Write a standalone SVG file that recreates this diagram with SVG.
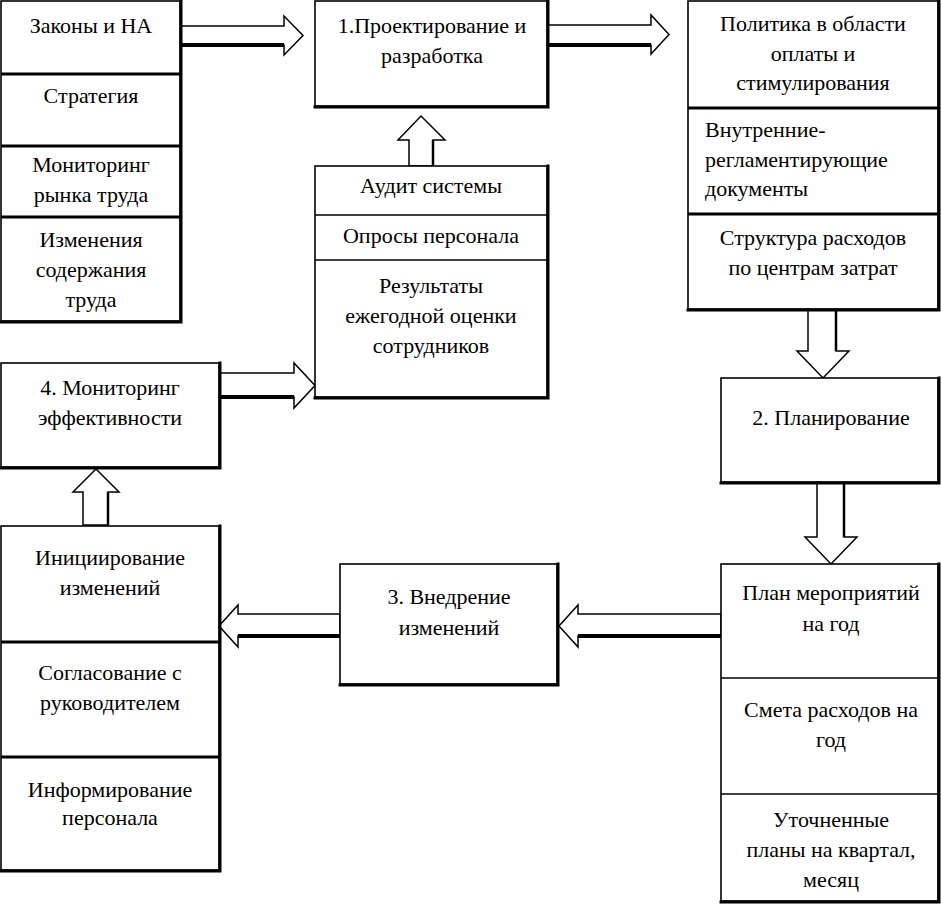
<svg xmlns="http://www.w3.org/2000/svg" width="941" height="914" viewBox="0 0 941 914" font-family="'Liberation Serif', 'Times New Roman', 'DejaVu Serif', serif">
<style>
.bx{fill:#fff;stroke:#000;stroke-width:1.6}
.sh{fill:none;stroke:#000;stroke-width:3;stroke-linecap:square}
.sep{stroke:#000;stroke-width:3}
.sept{stroke:#000;stroke-width:1.3}
.ar{fill:#fff;stroke:#000;stroke-width:1.5;stroke-linejoin:miter}
.as{fill:none;stroke:#000;stroke-width:4}
.av{fill:none;stroke:#000;stroke-width:2.5}
.t{font-family:'Liberation Serif','Times New Roman','DejaVu Serif',serif;font-size:22px;fill:#000;text-anchor:middle}
.l{text-anchor:start}
</style>
<rect width="941" height="914" fill="#fff"/>

<g id="connectors">
  <polygon class="ar" points="181,26 284,26 284,16 303,35.5 284,55 284,45 181,45"/>
  <line class="as" x1="181" y1="45" x2="284" y2="45"/>
  <polygon class="ar" points="548,25 651,25 651,15 669,34.5 651,54 651,45 548,45"/>
  <line class="as" x1="548" y1="45" x2="651" y2="45"/>
  <polygon class="ar" points="808,310 808,351 797,351 823,378 849,351 836,351 836,310"/>
  <line class="av" x1="836" y1="310" x2="836" y2="351"/>
  <polygon class="ar" points="817,483 817,537 805,537 831,564 857,537 844,537 844,483"/>
  <line class="av" x1="844" y1="483" x2="844" y2="537"/>
  <polygon class="ar" points="721,614 578,614 578,605 559,626 578,647 578,636 721,636"/>
  <line class="as" x1="578" y1="636" x2="721" y2="636"/>
  <polygon class="ar" points="340,614 238,614 238,605 219,626 238,647 238,636 340,636"/>
  <line class="as" x1="238" y1="636" x2="340" y2="636"/>
  <polygon class="ar" points="83,525 83,492 73,492 96,469 119,492 108,492 108,525"/>
  <line class="av" x1="108" y1="492" x2="108" y2="525"/>
  <polygon class="ar" points="220,373 294,373 294,363 315,385.5 294,408 294,397 220,397"/>
  <line class="as" x1="220" y1="397" x2="294" y2="397"/>
  <polygon class="ar" points="409,166 409,140 398,140 421,116 445,140 433,140 433,166"/>
  <line class="av" x1="433" y1="140" x2="433" y2="166"/>
</g>

<g id="left-top-stack">
  <rect class="bx" x="1" y="1" width="179" height="320"/>
  <polyline class="sh" points="181,1 181,322 1,322"/>
  <line class="sep" x1="1" y1="74" x2="181" y2="74"/>
  <line class="sep" x1="1" y1="146" x2="181" y2="146"/>
  <line class="sep" x1="1" y1="217" x2="181" y2="217"/>
  <text class="t" x="91" y="33">Законы и НА</text>
  <text class="t" x="91" y="103">Стратегия</text>
  <text class="t" x="91" y="172">Мониторинг</text>
  <text class="t" x="91" y="202">рынка труда</text>
  <text class="t" x="91" y="247">Изменения</text>
  <text class="t" x="91" y="277">содержания</text>
  <text class="t" x="91" y="307">труда</text>
</g>

<g id="design">
  <rect class="bx" x="315" y="1" width="232" height="105"/>
  <polyline class="sh" points="548,1 548,107 315,107"/>
  <text class="t" x="432" y="33">1.Проектирование и</text>
  <text class="t" x="432" y="63">разработка</text>
</g>

<g id="audit-stack">
  <rect class="bx" x="315" y="166" width="232" height="231"/>
  <polyline class="sh" points="548,166 548,398 315,398"/>
  <line class="sept" x1="315" y1="215" x2="548" y2="215"/>
  <line class="sept" x1="315" y1="260" x2="548" y2="260"/>
  <text class="t" x="431" y="193">Аудит системы</text>
  <text class="t" x="431" y="243">Опросы персонала</text>
  <text class="t" x="431" y="293">Результаты</text>
  <text class="t" x="431" y="323">ежегодной оценки</text>
  <text class="t" x="431" y="353">сотрудников</text>
</g>

<g id="right-top-stack">
  <rect class="bx" x="688" y="1" width="250" height="308"/>
  <polyline class="sh" points="939,1 939,310 688,310"/>
  <line class="sep" x1="688" y1="108" x2="939" y2="108"/>
  <line class="sep" x1="688" y1="214" x2="939" y2="214"/>
  <text class="t" x="813" y="31">Политика в области</text>
  <text class="t" x="813" y="61">оплаты и</text>
  <text class="t" x="813" y="90">стимулирования</text>
  <text class="t l" x="705" y="137">Внутренние-</text>
  <text class="t l" x="705" y="167">регламентирующие</text>
  <text class="t l" x="705" y="196">документы</text>
  <text class="t" x="813" y="245">Структура расходов</text>
  <text class="t" x="813" y="275">по центрам затрат</text>
</g>

<g id="planning">
  <rect class="bx" x="721" y="378" width="217" height="104"/>
  <polyline class="sh" points="939,378 939,483 721,483"/>
  <text class="t" x="831" y="425">2. Планирование</text>
</g>

<g id="right-bottom-stack">
  <rect class="bx" x="721" y="564" width="217" height="337"/>
  <polyline class="sh" points="939,564 939,902 721,902"/>
  <line class="sept" x1="721" y1="678" x2="939" y2="678"/>
  <line class="sept" x1="721" y1="794" x2="939" y2="794"/>
  <text class="t" x="831" y="600">План мероприятий</text>
  <text class="t" x="831" y="631">на год</text>
  <text class="t" x="831" y="717">Смета расходов на</text>
  <text class="t" x="831" y="747">год</text>
  <text class="t" x="831" y="827">Уточненные</text>
  <text class="t" x="831" y="857">планы на квартал,</text>
  <text class="t" x="831" y="887">месяц</text>
</g>

<g id="implementation">
  <rect class="bx" x="340" y="564" width="217" height="120"/>
  <polyline class="sh" points="558,564 558,685 340,685"/>
  <text class="t" x="449" y="604">3. Внедрение</text>
  <text class="t" x="449" y="635">изменений</text>
</g>

<g id="monitoring">
  <rect class="bx" x="1" y="363" width="218" height="104"/>
  <polyline class="sh" points="220,363 220,468 1,468"/>
  <text class="t" x="110" y="395">4. Мониторинг</text>
  <text class="t" x="110" y="425">эффективности</text>
</g>

<g id="left-bottom-stack">
  <rect class="bx" x="1" y="526" width="218" height="344"/>
  <polyline class="sh" points="220,526 220,871 1,871"/>
  <line class="sep" x1="1" y1="642" x2="220" y2="642"/>
  <line class="sep" x1="1" y1="757" x2="220" y2="757"/>
  <text class="t" x="110" y="565">Инициирование</text>
  <text class="t" x="110" y="595">изменений</text>
  <text class="t" x="110" y="680">Согласование с</text>
  <text class="t" x="110" y="710">руководителем</text>
  <text class="t" x="110" y="797">Информирование</text>
  <text class="t" x="110" y="825">персонала</text>
</g>
</svg>
